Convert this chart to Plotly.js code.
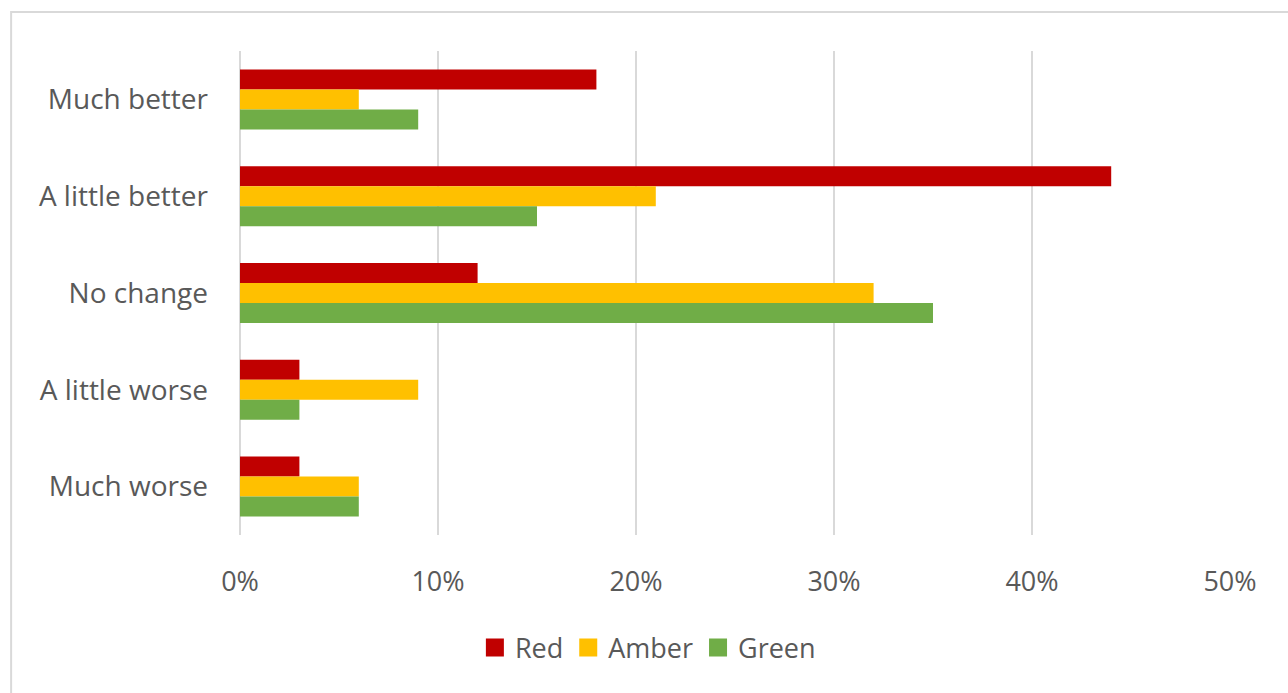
<!DOCTYPE html>
<html>
<head>
<meta charset="utf-8">
<script src="https://cdn.plot.ly/plotly-3.0.1.min.js"></script>
<style>
  html, body { margin: 0; padding: 0; background: #ffffff; }
  #chart { width: 1288px; height: 693px; }
</style>
</head>
<body>
<div id="chart"></div>
<script>
// Survey responses by RAG rating (percent of respondents)
const categories = ["Much better", "A little better", "No change", "A little worse", "Much worse"];
const seriesNames = ["Red", "Amber", "Green"];
const redValues = [18, 44, 12, 3, 3];
const amberValues = [6, 21, 32, 9, 6];
const greenValues = [9, 15, 35, 3, 6];
const xTickValues = [0, 10, 20, 30, 40, 50];
const xTickLabels = ["0%", "10%", "20%", "30%", "40%", "50%"];

const colors = ["#C00000", "#FFC000", "#70AD47"];
const values = [redValues, amberValues, greenValues];

const textColor = "#595959";
const fontFamily = "'Open Sans', 'Noto Sans', sans-serif";

const traces = seriesNames.map((name, i) => ({
  type: "bar",
  orientation: "h",
  name: name,
  y: categories,
  x: values[i],
  marker: { color: colors[i], line: { width: 0 } },
  hoverinfo: "x+y+name"
}));

// plot area in pixels: x 240..1230.5, y 51..535
const plotL = 240, plotR = 1230.5, plotT = 51, plotB = 535;
const W = 1288, H = 693;
const pw = plotR - plotL, ph = plotB - plotT;

const layout = {
  width: W,
  height: H,
  margin: { l: plotL, r: W - plotR, t: plotT, b: H - plotB, pad: 0 },
  paper_bgcolor: "#ffffff",
  plot_bgcolor: "#ffffff",
  font: { family: fontFamily, color: textColor, size: 27 },
  barmode: "group",
  bargap: 0.38,
  bargroupgap: 0,
  showlegend: true,
  legend: {
    orientation: "h",
    x: (486 - 11 - plotL) / pw,
    xanchor: "left",
    y: -(648 - plotB) / ph,
    yanchor: "middle",
    font: { family: fontFamily, color: textColor, size: 27 },
    bgcolor: "rgba(0,0,0,0)",
    itemclick: false,
    itemdoubleclick: false,
    tracegroupgap: 0
  },
  xaxis: {
    range: [0, 50],
    tickvals: xTickValues,
    ticktext: xTickLabels,
    showgrid: true,
    gridcolor: "#D9D9D9",
    gridwidth: 2,
    zeroline: true,
    zerolinecolor: "#D9D9D9",
    zerolinewidth: 2,
    showline: false,
    ticks: "",
    ticklabelstandoff: 28,
    tickfont: { family: fontFamily, color: textColor, size: 27 },
    fixedrange: true
  },
  yaxis: {
    type: "category",
    categoryorder: "array",
    categoryarray: categories,
    autorange: "reversed",
    showgrid: false,
    zeroline: false,
    showline: false,
    ticks: "",
    ticklabelstandoff: 31,
    tickfont: { family: fontFamily, color: textColor, size: 28 },
    fixedrange: true
  },
  shapes: [
    {
      type: "rect",
      xref: "paper",
      yref: "paper",
      x0: (11 - plotL) / pw,
      x1: (W + 10 - plotL) / pw,
      y0: -(H + 10 - plotB) / ph,
      y1: 1 + (plotT - 12) / ph,
      line: { color: "#D9D9D9", width: 2 },
      fillcolor: "rgba(0,0,0,0)",
      layer: "below"
    }
  ]
};

const gd = document.getElementById("chart");
function enlargeLegendSwatches() {
  gd.querySelectorAll(".legend .legendpoints path").forEach(p => {
    p.setAttribute("d", "M9,9H-9V-9H9Z");
  });
}
Plotly.newPlot(gd, traces, layout, { displayModeBar: false, staticPlot: true }).then(() => {
  enlargeLegendSwatches();
  gd.on && gd.on("plotly_afterplot", enlargeLegendSwatches);
});
</script>
</body>
</html>
